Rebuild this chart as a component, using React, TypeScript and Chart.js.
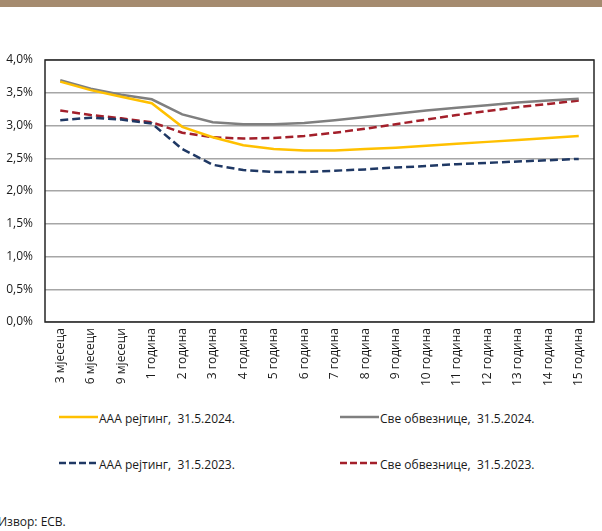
import React, { useEffect, useRef } from "react";
import { Chart, registerables } from "chart.js";

Chart.register(...registerables);

const categories = [
  "3 мјесеца", "6 мјесеци", "9 мјесеци", "1 година", "2 година", "3 година",
  "4 година", "5 година", "6 година", "7 година", "8 година", "9 година",
  "10 година", "11 година", "12 година", "13 година", "14 година", "15 година",
];

const aaa2024 = [3.67, 3.54, 3.44, 3.34, 2.98, 2.82, 2.7, 2.64, 2.62, 2.62, 2.64, 2.66, 2.69, 2.72, 2.75, 2.78, 2.81, 2.84];
const all2024 = [3.69, 3.56, 3.47, 3.4, 3.17, 3.05, 3.02, 3.02, 3.04, 3.08, 3.13, 3.18, 3.23, 3.27, 3.31, 3.35, 3.38, 3.41];
const aaa2023 = [3.08, 3.12, 3.09, 3.03, 2.64, 2.4, 2.32, 2.29, 2.29, 2.31, 2.33, 2.36, 2.38, 2.41, 2.43, 2.45, 2.47, 2.49];
const all2023 = [3.23, 3.16, 3.11, 3.05, 2.89, 2.82, 2.8, 2.81, 2.84, 2.89, 2.95, 3.02, 3.09, 3.16, 3.22, 3.28, 3.33, 3.38];

const seriesLabels = [
  "ААА рејтинг,  31.5.2024.",
  "Све обвезнице,  31.5.2024.",
  "ААА рејтинг,  31.5.2023.",
  "Све обвезнице,  31.5.2023.",
];
const seriesColors = ["#ffc000", "#7f7f7f", "#1f3864", "#a31f2a"];
const seriesDashed = [false, false, true, true];
const seriesData = [aaa2024, all2024, aaa2023, all2023];

const yMin = 0;
const yMax = 4;
const yStep = 0.5;

const FONT = "'Open Sans', 'Noto Sans', sans-serif";

const framePlugin = {
  id: "frame",
  beforeDatasetsDraw(chart: any) {
    const { ctx, chartArea } = chart;
    ctx.save();
    ctx.strokeStyle = "#262626";
    ctx.lineWidth = 1.5;
    ctx.strokeRect(chartArea.left, chartArea.top, chartArea.right - chartArea.left, chartArea.bottom - chartArea.top);
    ctx.restore();
  },
};

export default function App() {
  const ref = useRef<HTMLCanvasElement | null>(null);

  useEffect(() => {
    if (!ref.current) return;
    const chart = new Chart(ref.current, {
      type: "line",
      data: {
        labels: categories,
        datasets: seriesData.map((d, i) => ({
          label: seriesLabels[i],
          data: d,
          borderColor: seriesColors[i],
          backgroundColor: seriesColors[i],
          borderWidth: 2.5,
          borderDash: seriesDashed[i] ? [8, 4] : [],
          pointRadius: 0,
          tension: 0,
          fill: false,
        })),
      },
      options: {
        animation: false,
        responsive: false,
        maintainAspectRatio: false,
        layout: { padding: { left: 0, right: 8, top: 60, bottom: 0 } },
        plugins: {
          legend: { display: false },
          tooltip: { enabled: false },
        },
        scales: {
          x: {
            type: "category",
            offset: true,
            grid: { display: false, drawTicks: false },
            border: { display: false },
            ticks: {
              minRotation: 90,
              maxRotation: 90,
              autoSkip: false,
              padding: 6,
              color: "#1a1a1a",
              font: { family: FONT, size: 12 },
            },
            afterFit(scale: any) {
              scale.height = 78;
            },
          },
          y: {
            min: yMin,
            max: yMax,
            grid: { color: "#a6a6a6", lineWidth: 1.5, drawTicks: false },
            border: { display: false },
            ticks: {
              stepSize: yStep,
              padding: 12,
              color: "#1a1a1a",
              font: { family: FONT, size: 12 },
              callback: (v: any) => Number(v).toFixed(1).replace(".", ",") + "%",
            },
            afterFit(scale: any) {
              scale.width = 45;
            },
          },
        },
      },
      plugins: [framePlugin],
    });
    return () => chart.destroy();
  }, []);

  const legendPos = [
    { left: 59, top: 418 },
    { left: 340, top: 418 },
    { left: 59, top: 464 },
    { left: 340, top: 464 },
  ];

  return (
    <div style={{ position: "fixed", left: 0, top: 0, width: 602, height: 531, background: "#fff", overflow: "hidden", fontFamily: FONT }}>
      <div style={{ position: "absolute", left: 0, top: 0, width: 602, height: 7, background: "#a58b6f" }} />
      <canvas ref={ref} width={602} height={400} style={{ position: "absolute", left: 0, top: 0, width: 602, height: 400 }} />
      {seriesLabels.map((lab, i) => (
        <div key={i} style={{ position: "absolute", left: legendPos[i].left, top: legendPos[i].top - 8, height: 16, display: "flex", alignItems: "center", whiteSpace: "pre" }}>
          <svg width={39} height={4} style={{ marginRight: 1, marginTop: -3 }}>
            <line x1={0} y1={2} x2={39} y2={2} stroke={seriesColors[i]} strokeWidth={2.5} strokeDasharray={seriesDashed[i] ? "7 3" : undefined} />
          </svg>
          <span style={{ fontSize: 12, color: "#1a1a1a" }}>{lab}</span>
        </div>
      ))}
      <div style={{ position: "absolute", left: -2, top: 513, fontSize: 12, lineHeight: "18px", color: "#1a1a1a", whiteSpace: "pre" }}>Извор: ЕСВ.</div>
    </div>
  );
}
